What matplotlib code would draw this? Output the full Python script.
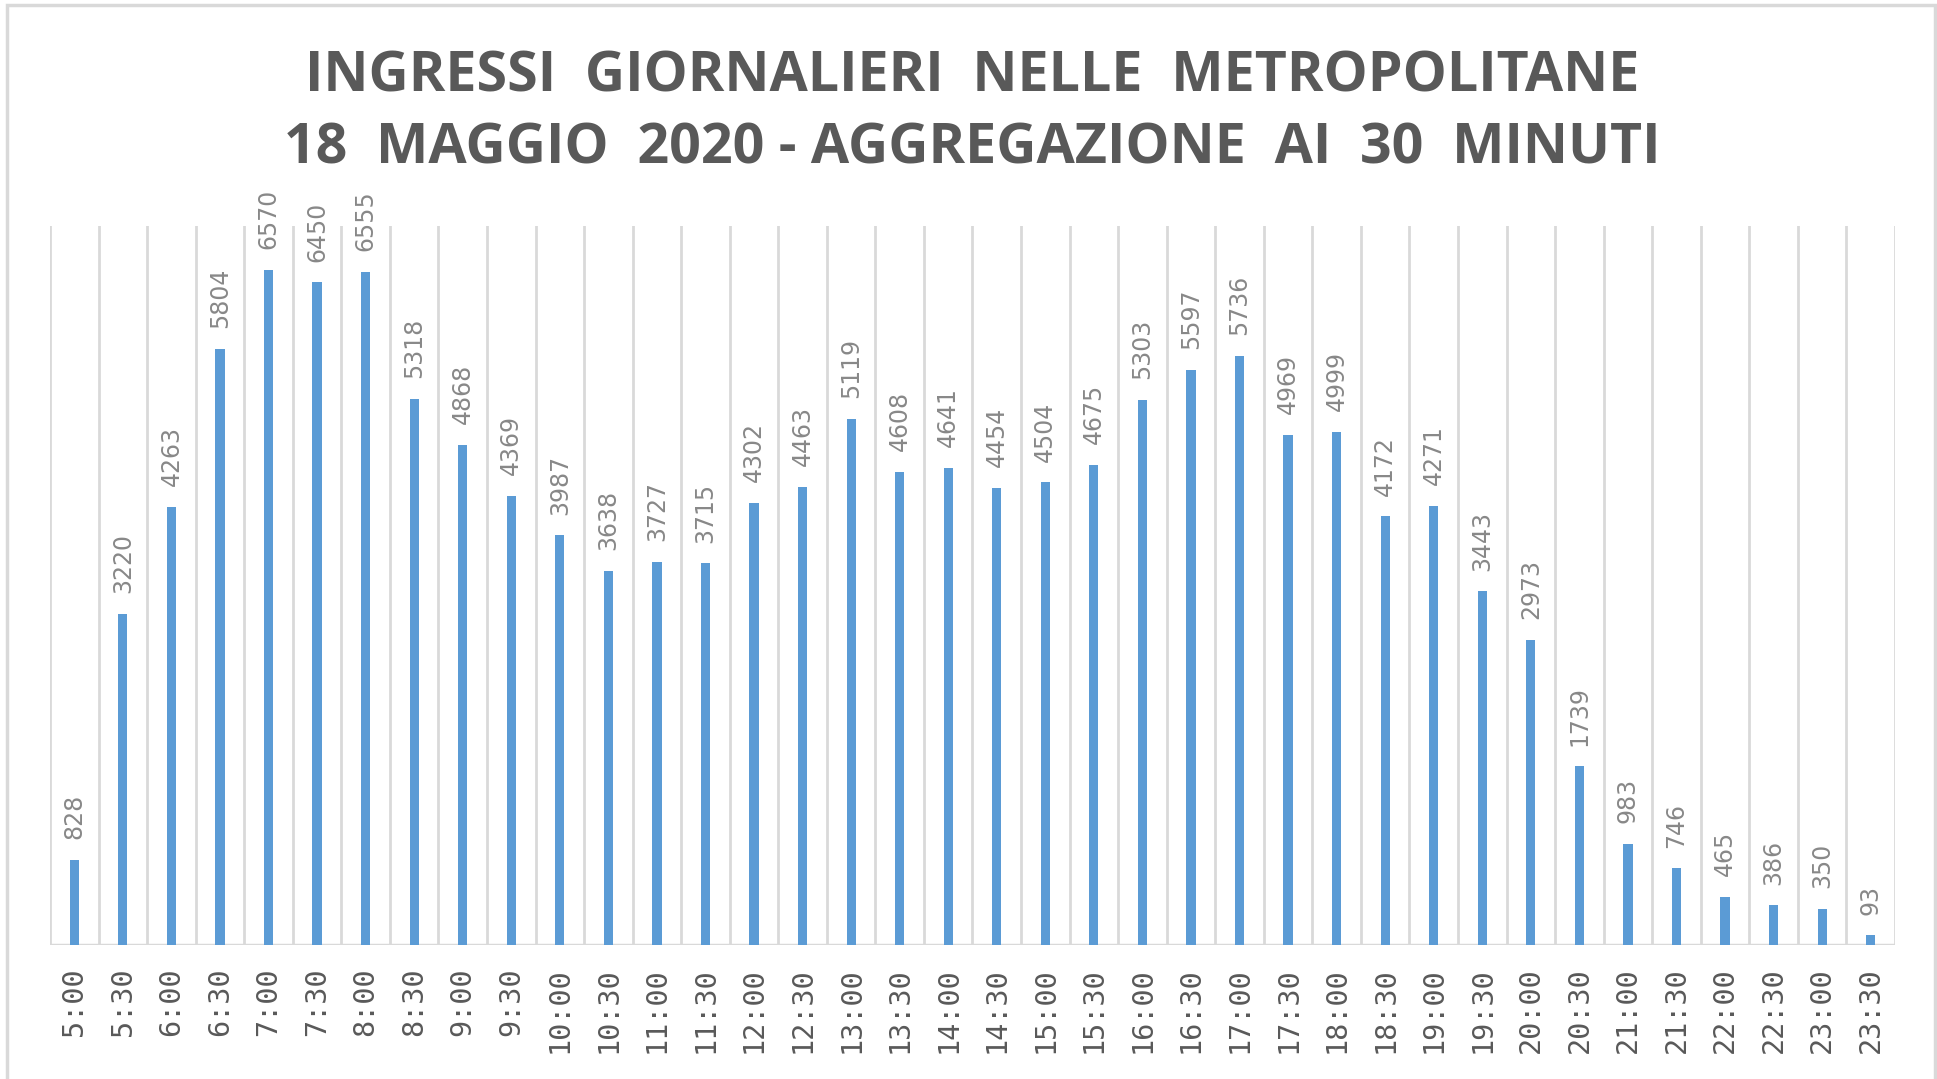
import matplotlib
matplotlib.use('Agg')
import matplotlib.pyplot as plt
from matplotlib.patches import Rectangle

# dati: ingressi ogni 30 minuti
orari = ['5:00', '5:30', '6:00', '6:30', '7:00', '7:30', '8:00', '8:30', '9:00', '9:30',
         '10:00', '10:30', '11:00', '11:30', '12:00', '12:30', '13:00', '13:30', '14:00', '14:30',
         '15:00', '15:30', '16:00', '16:30', '17:00', '17:30', '18:00', '18:30', '19:00', '19:30',
         '20:00', '20:30', '21:00', '21:30', '22:00', '22:30', '23:00', '23:30']
ingressi = [828, 3220, 4263, 5804, 6570, 6450, 6555, 5318, 4868, 4369,
            3987, 3638, 3727, 3715, 4302, 4463, 5119, 4608, 4641, 4454,
            4504, 4675, 5303, 5597, 5736, 4969, 4999, 4172, 4271, 3443,
            2973, 1739, 983, 746, 465, 386, 350, 93]

titolo_1 = 'INGRESSI  GIORNALIERI  NELLE  METROPOLITANE'
titolo_2 = '18  MAGGIO  2020 - AGGREGAZIONE  AI  30  MINUTI'

fig = plt.figure(figsize=(19.37, 10.79), dpi=100)
fig.patches.append(Rectangle((7 / 1937, -0.01), 1928 / 1937, 1 - 5 / 1079 + 0.01,
                             transform=fig.transFigure, fill=False,
                             edgecolor='#d9d9d9', linewidth=2.5))

ax = fig.add_axes([50 / 1937, 134 / 1079, 1845 / 1937, 719 / 1079])
x = range(len(orari))
ax.bar(x, ingressi, width=0.19, color='#5b9bd5', zorder=3)

# griglia verticale tra le categorie
for i in range(len(orari) + 1):
    ax.axvline(i - 0.5, color='#d9d9d9', linewidth=2, zorder=1)
ax.axhline(0, color='#d9d9d9', linewidth=2.5, zorder=2)

for i, v in enumerate(ingressi):
    ax.annotate(str(v), (i, v), xytext=(0, 15), textcoords='offset points',
                rotation=90, ha='center', va='bottom', fontsize=17,
                family='DejaVu Sans', color='#888888')

ax.set_xlim(-0.5, len(orari) - 0.5)
ax.set_ylim(0, 7000)
ax.set_xticks(list(x))
ax.set_xticklabels(orari, rotation=90, fontsize=20.5, family='DejaVu Sans Mono', color='#595959')
ax.tick_params(axis='x', length=0, pad=16)
ax.set_yticks([])
for s in ax.spines.values():
    s.set_visible(False)

fig.text(0.502, 1 - 92 / 1079, titolo_1, ha='center', va='baseline', fontsize=40,
         fontweight='bold', family='Open Sans', color='#595959')
fig.text(0.502, 1 - 163 / 1079, titolo_2, ha='center', va='baseline', fontsize=40,
         fontweight='bold', family='Open Sans', color='#595959')

fig.savefig('out.png', dpi=100)
